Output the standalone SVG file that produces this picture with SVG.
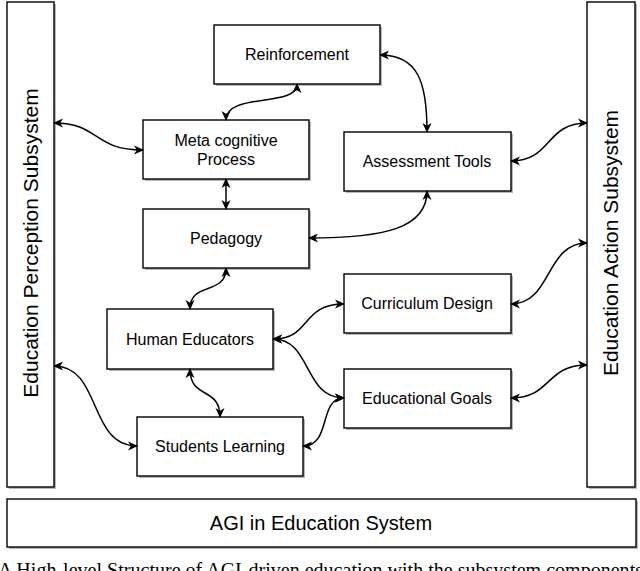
<svg xmlns="http://www.w3.org/2000/svg" width="640" height="571" viewBox="0 0 640 571">
<style>
  .box{fill:#fff;stroke:#000;stroke-width:1.4}
  .sh{fill:#999;opacity:0.7}
  .lbl{font-family:"Liberation Sans",Arial,Helvetica,sans-serif;font-size:16px;fill:#000;text-anchor:middle}
  .big{font-family:"Liberation Sans",Arial,Helvetica,sans-serif;font-size:21px;fill:#000;text-anchor:middle}
  .edge{fill:none;stroke:#000;stroke-width:1.5;marker-start:url(#arr);marker-end:url(#arr)}
  .cap{font-family:"Liberation Serif","Times New Roman",serif;font-size:20px;fill:#000}
</style>
<defs>
  <marker id="arr" viewBox="0 0 10 10" refX="9" refY="5" markerWidth="10" markerHeight="10" markerUnits="userSpaceOnUse" orient="auto-start-reverse">
    <path d="M0,0.5 L10,5 L0,9.5 L2.8,5 z" fill="#000"/>
  </marker>
</defs>
<rect width="640" height="571" fill="#fff"/>

<g id="perception">
  <rect class="sh" x="9" y="4" width="47" height="485"/>
  <rect class="box" x="7" y="2" width="47" height="485"/>
  <text class="big" transform="translate(38,243) rotate(-90)">Education Perception Subsystem</text>
</g>
<g id="action">
  <rect class="sh" x="589" y="4" width="48" height="485"/>
  <rect class="box" x="587" y="2" width="48" height="485"/>
  <text class="big" transform="translate(618,243) rotate(-90)">Education Action Subsystem</text>
</g>
<g id="system">
  <rect class="sh" x="9" y="501" width="629" height="48"/>
  <rect class="box" x="7" y="499" width="629" height="48"/>
  <text class="big" style="font-size:20px" x="321" y="530">AGI in Education System</text>
</g>

<g id="reinforcement">
  <rect class="sh" x="216" y="27" width="166" height="59"/>
  <rect class="box" x="214" y="25" width="166" height="59"/>
  <text class="lbl" x="297" y="60">Reinforcement</text>
</g>
<g id="meta">
  <rect class="sh" x="145" y="122" width="166" height="59"/>
  <rect class="box" x="143" y="120" width="166" height="59"/>
  <text class="lbl" x="226" y="146">Meta cognitive</text>
  <text class="lbl" x="226" y="165">Process</text>
</g>
<g id="assessment">
  <rect class="sh" x="346" y="134" width="167" height="59"/>
  <rect class="box" x="344" y="132" width="167" height="59"/>
  <text class="lbl" x="427" y="167">Assessment Tools</text>
</g>
<g id="pedagogy">
  <rect class="sh" x="145" y="211" width="166" height="59"/>
  <rect class="box" x="143" y="209" width="166" height="59"/>
  <text class="lbl" x="226" y="244">Pedagogy</text>
</g>
<g id="curriculum">
  <rect class="sh" x="346" y="276" width="167" height="59"/>
  <rect class="box" x="344" y="274" width="167" height="59"/>
  <text class="lbl" x="427" y="309">Curriculum Design</text>
</g>
<g id="educators">
  <rect class="sh" x="109" y="311" width="166" height="60"/>
  <rect class="box" x="107" y="309" width="166" height="60"/>
  <text class="lbl" x="190" y="345">Human Educators</text>
</g>
<g id="goals">
  <rect class="sh" x="346" y="371" width="167" height="59"/>
  <rect class="box" x="344" y="369" width="167" height="59"/>
  <text class="lbl" x="427" y="404">Educational Goals</text>
</g>
<g id="students">
  <rect class="sh" x="139" y="419" width="166" height="59"/>
  <rect class="box" x="137" y="417" width="166" height="59"/>
  <text class="lbl" x="220" y="452">Students Learning</text>
</g>

<g id="connectors">
  <path class="edge" d="M54,123 C100,123 92,150 143,150"/>
  <path class="edge" d="M226,120 C226,92 297,108 297,84"/>
  <path class="edge" d="M380,55 C418,55 427,82 427,132"/>
  <path class="edge" d="M511,161 C552,161 545,123 587,123"/>
  <path class="edge" d="M226,179 L226,209"/>
  <path class="edge" d="M309,238 C385,238 427,228 427,191"/>
  <path class="edge" d="M226,268 C226,296 190,281 190,309"/>
  <path class="edge" d="M273,339 C312,339 300,304 344,304"/>
  <path class="edge" d="M273,339 C312,339 303,398 344,398"/>
  <path class="edge" d="M303,446 C332,446 318,398 344,398"/>
  <path class="edge" d="M190,369 C190,400 220,386 220,417"/>
  <path class="edge" d="M54,366 C102,366 88,446 137,446"/>
  <path class="edge" d="M511,304 C552,304 545,243 587,243"/>
  <path class="edge" d="M511,398 C552,398 545,365 587,365"/>
</g>

<text class="cap" x="-2" y="577" textLength="645" lengthAdjust="spacing">A High-level Structure of AGI-driven education with the subsystem components</text>
</svg>
